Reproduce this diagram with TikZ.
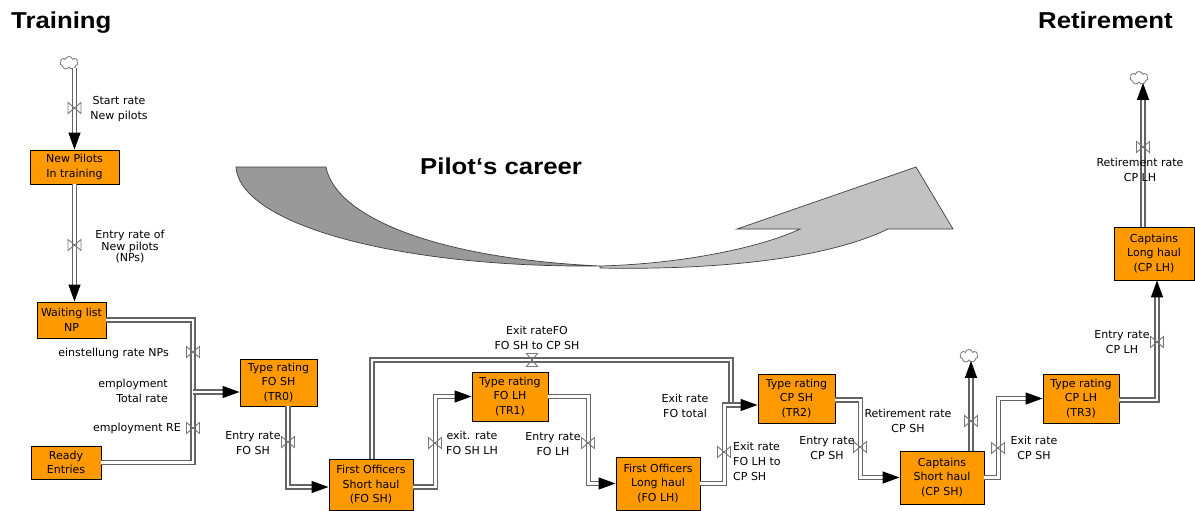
\documentclass[tikz,border=0pt]{standalone}
\usepackage{fontspec}
\setmainfont{DejaVu Sans}
\newfontfamily\titlef[FakeStretch=1.12]{Liberation Sans}
\usetikzlibrary{arrows.meta,shapes.symbols}
\definecolor{boxorange}{RGB}{255,153,0}
\definecolor{pipegray}{RGB}{100,100,100}
\definecolor{valvegray}{RGB}{120,120,120}
\definecolor{arrowdark}{RGB}{153,153,153}
\definecolor{arrowlight}{RGB}{194,194,194}
\begin{document}
\begin{tikzpicture}[x=1pt,y=-1pt,
  stock/.style={draw=black, line width=0.9pt, fill=boxorange, inner sep=0pt, align=center, font=\fontsize{11}{14.5}\selectfont},
  lbl/.style={align=center, inner sep=0pt, font=\fontsize{11}{15}\selectfont},
  pipe/.style={draw=pipegray, line width=1.3pt, double=white, double distance=2.8pt},
  flow/.style={pipe, -{Triangle[length=17pt,width=12pt,color=black]}},
  sink/.style={cloud, cloud puffs=7, draw=gray, line width=0.9pt, fill=white, minimum width=18pt, minimum height=13pt, inner sep=0pt},
  title/.style={font=\titlef\bfseries\fontsize{23}{26}\selectfont, inner sep=0pt},
  valve/.pic={\draw[valvegray, line width=0.9pt] (-6.5,-5.5) -- (6.5,5.5) -- (6.5,-5.5) -- (-6.5,5.5) -- cycle;}
]
\useasboundingbox (0,0) rectangle (1195,511);
\fill[white] (0,0) rectangle (1195,511);

% titles
\node[title, anchor=base west] (ttrain) at (11,29) {Training};
\node[title, anchor=base east] (tretire) at (1173,29) {Retirement};

% big career arrow
\draw[fill=arrowdark, draw=black!75, line width=0.7pt]
  (236,167) -- (326,167) .. controls (335,215) and (430,258) .. (600,266)
  .. controls (400,268) and (240,225) .. (236,167) -- cycle;
\draw[fill=arrowlight, draw=black!75, line width=0.7pt]
  (600,266) .. controls (680,264) and (760,248) .. (800,229)
  -- (737,229) -- (916,167) -- (953,229) -- (888,229)
  .. controls (820,262) and (700,270) .. (600,268) -- cycle;
\node[title, anchor=base west] (tcareer) at (420,174) {Pilot‘s career};

% stocks
\node[stock, minimum width=89pt, minimum height=34pt] (NP) at (74.5,167) {New Pilots\\In training};
\node[stock, minimum width=69pt, minimum height=36pt] (WL) at (71.5,320) {Waiting list\\NP};
\node[stock, minimum width=70pt, minimum height=33pt] (RE) at (66,462.5) {Ready\\Entries};
\node[stock, minimum width=77pt, minimum height=47pt] (TR0) at (278.5,382.5) {Type rating\\FO SH\\(TR0)};
\node[stock, minimum width=84pt, minimum height=51pt] (FOSH) at (371,485) {First Officers\\Short haul\\(FO SH)};
\node[stock, minimum width=76pt, minimum height=49pt] (TR1) at (510,396.5) {Type rating\\FO LH\\(TR1)};
\node[stock, minimum width=84pt, minimum height=53pt] (FOLH) at (658,483.5) {First Officers\\Long haul\\(FO LH)};
\node[stock, minimum width=77pt, minimum height=49pt] (TR2) at (796.5,398.5) {Type rating\\CP SH\\(TR2)};
\node[stock, minimum width=84pt, minimum height=53pt] (CPSH) at (942,477.5) {Captains\\Short haul\\(CP SH)};
\node[stock, minimum width=76pt, minimum height=49pt] (TR3) at (1081,398.5) {Type rating\\CP LH\\(TR3)};
\node[stock, minimum width=80pt, minimum height=53pt] (CPLH) at (1154,253.5) {Captains\\Long haul\\(CP LH)};

% sources / sinks
\node[sink] (C1) at (69,63) {};
\node[sink] (C2) at (969,356) {};
\node[sink] (C3) at (1139,78) {};

% junctions
\coordinate (J1) at (193,392);
\coordinate (J2) at (731,405);
\coordinate (T1) at (731,360);

% flows
\draw[flow] (C1.south -| NP.north) -- (NP.north);
\draw[flow] (NP.south) -- (NP.south |- WL.north);
\draw[pipe] (WL.east) -| (J1);
\draw[pipe] (RE.east) -| (J1);
\draw[flow] (J1) -- (J1 -| TR0.west);
\draw[flow] ([xshift=9.5pt]TR0.south) |- ([yshift=-2pt]FOSH.west);
\draw[pipe] ([xshift=1pt]FOSH.north) |- (T1) -- (J2);
\draw[flow] ([yshift=-2pt]FOSH.east) -- ++(22,0) |- (TR1.west);
\draw[flow] (TR1.east) -- ++(40,0) |- (FOLH.west);
\draw[pipe] (FOLH.east) -- ++(24,0) |- (J2);
\draw[flow] (J2) -- (J2 -| TR2.west);
\draw[flow] ([yshift=-1.5pt]TR2.east) -- ++(25,0) |- (CPSH.west);
\draw[flow] ([xshift=29pt]CPSH.north) -- ([xshift=29pt]CPSH.north |- C2.south);
\draw[flow] (CPSH.east) -- ++(14,0) |- (TR3.west);
\draw[flow] ([yshift=-1.5pt]TR3.east) -| ([xshift=3pt]CPLH.south);
\draw[flow] ([xshift=-11pt]CPLH.north) -- ([xshift=-11pt]CPLH.north |- C3.south);

% valves
\pic at (74.5,108) {valve};
\pic at (74.5,245) {valve};
\pic at (193,352) {valve};
\pic at (193,428) {valve};
\pic at (288,442) {valve};
\pic[rotate=90] at (532,360) {valve};
\pic at (435,443) {valve};
\pic at (588,443) {valve};
\pic at (724,452) {valve};
\pic at (860,447) {valve};
\pic at (971,421) {valve};
\pic at (998,448) {valve};
\pic at (1157,342) {valve};
\pic at (1143,147) {valve};

% rate labels
\node[lbl] (l1) at (119,109) {Start rate\\New pilots};
\node[lbl, font=\fontsize{11}{11.5}\selectfont] (l2) at (130,247) {Entry rate of\\New pilots\\(NPs)};
\node[lbl, anchor=east] (l3) at (169,353) {einstellung rate NPs};
\node[lbl, anchor=east, align=right] (l4) at (168,391) {employment\\Total rate};
\node[lbl, anchor=east] (l5) at (181,428) {employment RE};
\node[lbl] (l6) at (253,443) {Entry rate\\FO SH};
\node[lbl] (l7) at (537,338) {Exit rateFO\\FO SH to CP SH};
\node[lbl] (l8) at (472,443) {exit. rate\\FO SH LH};
\node[lbl] (l9) at (553,444) {Entry rate\\FO LH};
\node[lbl] (l10) at (685,406) {Exit rate\\FO total};
\node[lbl, anchor=west, align=left] (l11) at (733,461) {Exit rate\\FO LH to\\CP SH};
\node[lbl] (l12) at (827,448) {Entry rate\\CP SH};
\node[lbl] (l13) at (908,421) {Retirement rate\\CP SH};
\node[lbl] (l14) at (1034,448) {Exit rate\\CP SH};
\node[lbl] (l15) at (1122,342) {Entry rate\\CP LH};
\node[lbl] (l16) at (1140,170) {Retirement rate\\CP LH};
\end{tikzpicture}
\end{document}
